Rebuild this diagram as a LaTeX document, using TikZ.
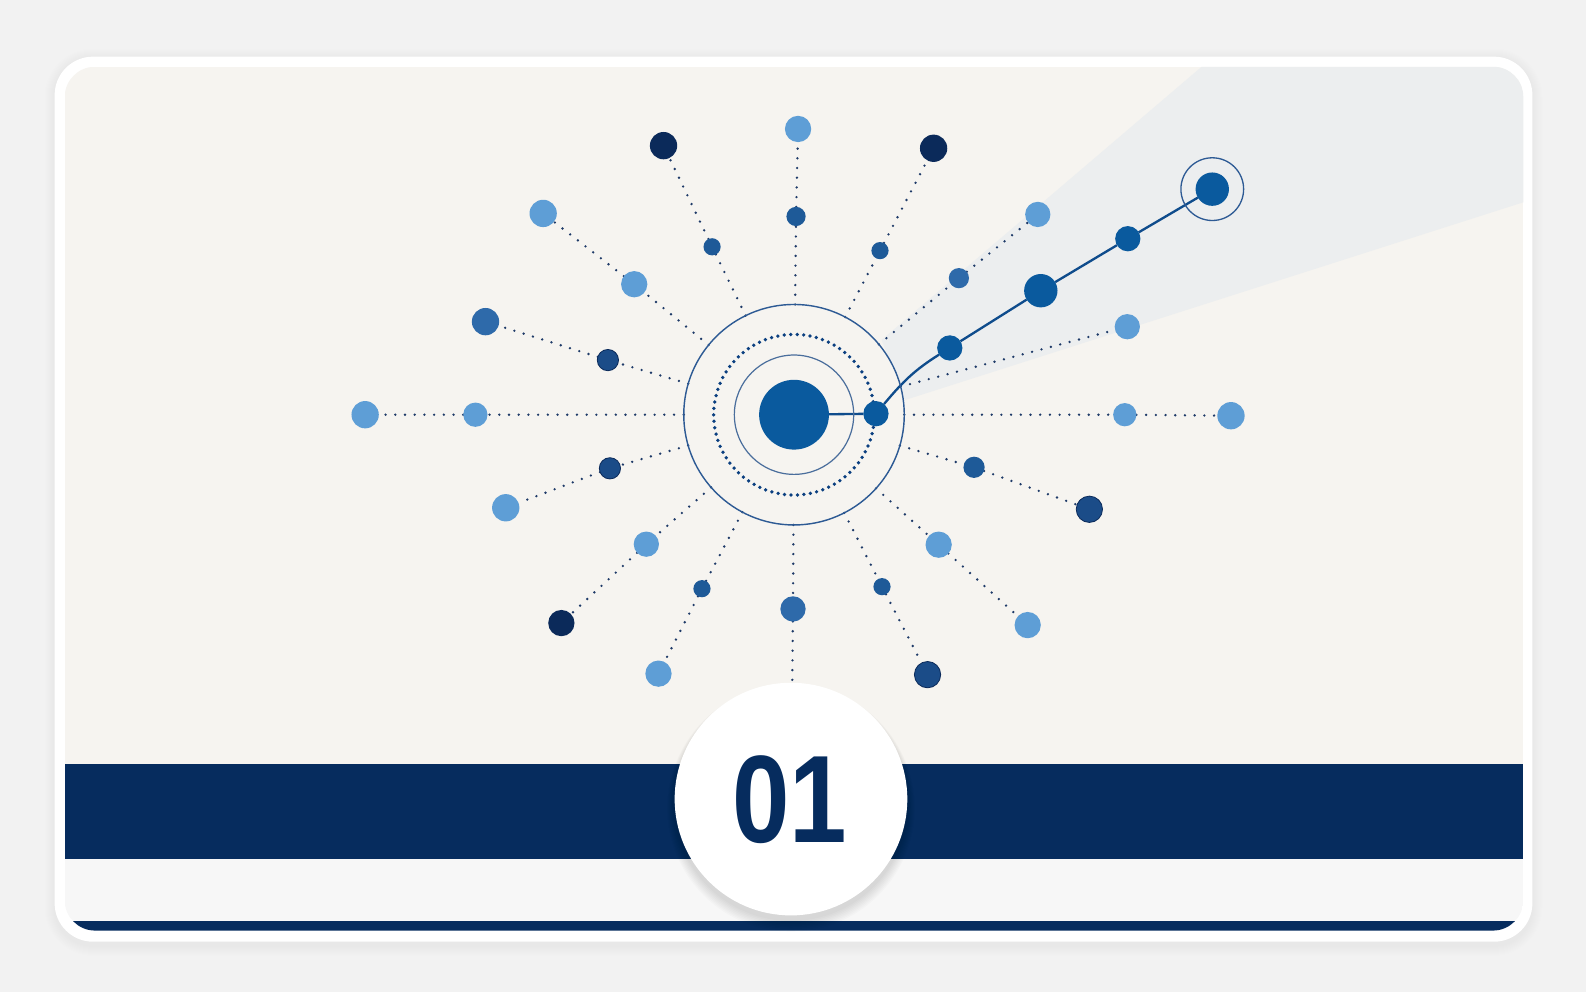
\documentclass[tikz,border=0pt]{standalone}
\usepackage{fontspec}
\setmainfont{Liberation Sans}
\usetikzlibrary{calc}
\pgfdeclarelayer{bg}
\pgfdeclarelayer{back}
\pgfsetlayers{bg,back,main}
\definecolor{pageBg}{HTML}{F2F2F2}
\definecolor{panelBeige}{HTML}{F6F4F0}
\definecolor{stripCol}{HTML}{F7F7F7}
\definecolor{bandNavy}{HTML}{062C5E}
\definecolor{beamA}{HTML}{ECEEEF}
\definecolor{cLight}{HTML}{5E9ED6}
\definecolor{cNavy}{HTML}{0B2A5A}
\definecolor{cMid}{HTML}{1E5A98}
\definecolor{cDark}{HTML}{1B4C88}
\definecolor{cMain}{HTML}{0A5A9E}
\definecolor{cTex}{HTML}{2E6AAA}
\definecolor{dotCol}{HTML}{1E3A68}
\definecolor{ringCol}{HTML}{2D5A94}
\definecolor{ringColB}{HTML}{4A6E9C}
\definecolor{dotRingCol}{HTML}{0B3F80}
\definecolor{pathCol}{HTML}{0F4C8C}
\begin{document}
\begin{tikzpicture}[x=1pt,y=-1pt,
  dotbase/.style={circle,inner sep=0pt,outer sep=0pt,minimum size=#1},
  nLight/.style={dotbase=#1,fill=cLight},
  nNavy/.style={dotbase=#1,fill=cNavy},
  nMid/.style={dotbase=#1,fill=cMid},
  nDark/.style={dotbase=#1,fill=cDark,draw=cNavy,line width=0.8pt},
  nTex/.style={dotbase=#1,fill=cTex},
  nMain/.style={dotbase=#1,fill=cMain},
  raydots/.style={draw=dotCol,line width=2.6pt,line cap=round,dash pattern=on 0pt off 9.6pt},
  ringline/.style={circle,inner sep=0pt,draw=#1},
  pathline/.style={draw=pathCol,line width=2.3pt}
]
\useasboundingbox (0,0) rectangle (1568,981);

% ---------- nodes (main layer) ----------
\node[ringline=ringCol,line width=1.4pt,minimum size=218pt,outer sep=0pt] (ring) at (785,410) {};
\node[ringline=ringColB,line width=1.2pt,minimum size=118pt] (inring) at (785,410) {};
\node[nMain=69pt] (hub) at (785,410) {};

\node[nLight=26pt] (o1) at (789,127.5) {};  \node[nMid=19pt] (m1) at (787,214) {};
\node[nNavy=27pt] (o2) at (656,144) {};     \node[nMid=17pt] (m2) at (704,244) {};
\node[nNavy=27pt] (o3) at (923,146.6) {};   \node[nMid=17pt] (m3) at (870,247.8) {};
\node[nLight=27pt] (o4) at (537,211) {};    \node[nLight=26pt] (m4) at (627,281) {};
\node[nLight=25pt] (o5) at (1026,212) {};   \node[nTex=20pt] (m5) at (948,275) {};
\node[nTex=27pt] (o6) at (480,318) {};      \node[nDark=21pt] (m6) at (601,356) {};
\node[nLight=25pt] (o7) at (1114.5,323) {};
\node[nLight=27pt] (o8) at (361,410) {};    \node[nLight=24pt] (m8) at (470,410) {};
\node[nLight=27pt] (o9) at (1217,411) {};   \node[nLight=23pt] (m9) at (1112,410) {};
\node[nLight=27pt] (o10) at (500,502) {};   \node[nDark=21pt] (m10) at (603,463) {};
\node[nDark=26pt] (o11) at (1077,503.5) {}; \node[nMid=21pt] (m11) at (963,462) {};
\node[nNavy=26pt] (o12) at (555,616) {};    \node[nLight=25pt] (m12) at (639,538) {};
\node[nLight=26pt] (o13) at (1016,618) {};  \node[nLight=26pt] (m13) at (928,538.5) {};
\node[nLight=26pt] (o14) at (651,666) {};   \node[nMid=17pt] (m14) at (694,582) {};
\node[nDark=26pt] (o15) at (917,667) {};    \node[nMid=17pt] (m15) at (872,580) {};
\node[nTex=25pt] (bot) at (784,602) {};

\node[nMain=25pt] (p0) at (866,409) {};
\node[nMain=25pt] (p1) at (939,344) {};
\node[nMain=33pt] (p2) at (1029,287.4) {};
\node[nMain=25pt] (p3) at (1115,236) {};
\node[nMain=33pt] (p4) at (1198.5,187) {};
\node[ringline=ringCol,line width=1.3pt,minimum size=62pt] (p4ring) at (1198.5,187) {};

% badge
\node[circle,fill=white,inner sep=0pt,minimum size=230pt] (badge) at (782,790) {};
\node[inner sep=0pt,text=bandNavy,font=\fontsize{123}{123}\selectfont\bfseries] (num) at (781,791) {\scalebox{0.83}[1]{01}};

% ---------- background ----------
\begin{pgfonlayer}{bg}
  \fill[pageBg] (0,0) rectangle (1568,981);
  \foreach \i in {1,...,10}{
    \fill[black,opacity=0.005,rounded corners={38+\i}] ({54-\i},{58-\i}) rectangle ({1515+\i},{935+\i});
  }
  \fill[white,rounded corners=38] (54,56) rectangle (1515,931);
  \begin{scope}
    \clip[rounded corners=30] (64,66) rectangle (1506,920);
    \fill[panelBeige] (64,66) rectangle (1506,756);
    \fill[beamA] (871.6,336) -- (1188,66) -- (1506,66) -- (1506,200) -- (894.7,395.5) -- cycle;
    \fill[bandNavy] (64,755) rectangle (1506,849);
    \fill[stripCol] (64,849) rectangle (1506,911);
    \fill[bandNavy] (64,911) rectangle (1506,921);
  \end{scope}
  \fill[panelBeige] (785,410) circle[radius=109pt];
\end{pgfonlayer}

% ---------- connectors ----------
\begin{pgfonlayer}{back}
  \foreach \i in {1,...,8}{
    \fill[black,opacity=0.014] (782,{794+0.6*\i}) circle[radius={115pt+0.9pt*\i}];
  }
  \draw[raydots] (ring) -- (m1) -- (o1);
  \draw[raydots] (ring) -- (m2) -- (o2);
  \draw[raydots] (ring) -- (m3) -- (o3);
  \draw[raydots] (ring) -- (m4) -- (o4);
  \draw[raydots] (ring) -- (m5) -- (o5);
  \draw[raydots] (ring) -- (m6) -- (o6);
  \draw[raydots] (ring) -- (o7);
  \draw[raydots] (ring) -- (m8) -- (o8);
  \draw[raydots] (ring) -- (m9) -- (o9);
  \draw[raydots] (ring) -- (m10) -- (o10);
  \draw[raydots] (ring) -- (m11) -- (o11);
  \draw[raydots] (ring) -- (m12) -- (o12);
  \draw[raydots] (ring) -- (m13) -- (o13);
  \draw[raydots] (ring) -- (m14) -- (o14);
  \draw[raydots] (ring) -- (m15) -- (o15);
  \draw[raydots] (ring) -- (bot) -- (badge);
  \draw[draw=dotRingCol,line width=3.7pt,line cap=round,dash pattern=on 0pt off 6.4pt] (785,410) circle[radius=79.4pt];
  \draw[pathline] (hub) -- (p0);
  \draw[pathline] (p0) to[out=50,in=212] (p1) -- (p2) -- (p3) -- (p4);
\end{pgfonlayer}
\end{tikzpicture}
\end{document}
